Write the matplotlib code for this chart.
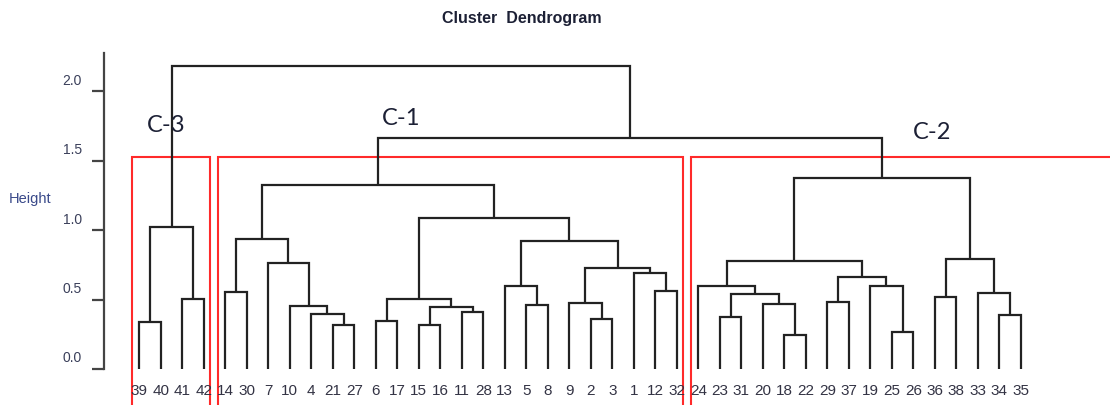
import matplotlib
matplotlib.use("Agg")
import matplotlib.pyplot as plt
import matplotlib.transforms as mtransforms
from matplotlib import font_manager

# ---------------- data ----------------
leaf_order = [39, 40, 41, 42, 14, 30, 7, 10, 4, 21, 27, 6, 17, 15, 16, 11, 28,
              13, 5, 8, 9, 2, 3, 1, 12, 32, 24, 23, 31, 20, 18, 22, 29, 37, 19,
              25, 26, 36, 38, 33, 34, 35]

# R-style merge matrix: negative = leaf label, positive = earlier merge (1-based)
merge_left = [-39, -41, 1, -14, -21, -4, -10, -7, 4, -6, -15, -11, 11, 10,
              -5, -13, -2, -9, -12, -1, 18, 16, 14, 9,
              -23, -18, -20, 25, -24, -29, -25, -19, 30, 29, -36, -34, -33, 35, 34, 24, 3]
merge_right = [-40, -42, 2, -30, -27, 5, 6, 7, 8, -17, -16, -28, 12, 13,
               -8, 15, -3, 17, -32, 19, 20, 21, 22, 23,
               -31, -22, 26, 27, 28, -37, -26, 31, 32, 33, -38, -35, 36, 37, 38, 39, 40]
merge_height = [0.336, 0.504, 1.025, 0.553, 0.317, 0.396, 0.452, 0.764, 0.937,
                0.343, 0.317, 0.408, 0.444, 0.504, 0.463, 0.596, 0.360, 0.475,
                0.560, 0.690, 0.725, 0.920, 1.088, 1.328,
                0.372, 0.245, 0.468, 0.540, 0.596, 0.480, 0.264, 0.596, 0.665,
                0.780, 0.517, 0.391, 0.548, 0.790, 1.373, 1.664, 2.180]

cluster_names = ["C-3", "C-1", "C-2"]
cluster_first_leaf = [39, 14, 24]
cluster_last_leaf = [42, 32, 35]
cut_height = 1.53

y_ticks = [0.0, 0.5, 1.0, 1.5, 2.0]
y_tick_labels = ["0.0", "0.5", "1.0", "1.5", "2.0"]

# ---------------- fonts ----------------
names = {f.name for f in font_manager.fontManager.ttflist}
narrow = "Liberation Sans Narrow" if "Liberation Sans Narrow" in names else "Liberation Sans"
label_font = "Lato" if "Lato" in names else "DejaVu Sans"

# ---------------- figure ----------------
W, H, DPI = 1110, 406, 100
fig = plt.figure(figsize=(W / DPI, H / DPI), dpi=DPI)
ax = fig.add_axes([0, 0, 1, 1])

# pixel mapping (leaf 0 at px 139.3, 21.5 px per leaf; height 0 at py 370, 138.8 px per unit)
x0px, dxpx = 139.3, 21.5
y0px, dypx = 370.0, 138.8
ax.set_xlim(-x0px / dxpx, (W - x0px) / dxpx)
ax.set_ylim((y0px - H) / dypx, y0px / dypx)

line_col = "#222222"
lw = 1.6

pos = {lab: i for i, lab in enumerate(leaf_order)}
node_x = []


def get(ref):
    if ref < 0:
        return float(pos[-ref]), 0.0
    return node_x[ref - 1], merge_height[ref - 1]


for l, r, h in zip(merge_left, merge_right, merge_height):
    xl, hl = get(l)
    xr, hr = get(r)
    ax.plot([xl, xl, xr, xr], [hl, h, h, hr], color=line_col, lw=lw,
            solid_joinstyle="miter", solid_capstyle="butt", zorder=3)
    node_x.append((xl + xr) / 2.0)

# leaf labels
for lab, i in pos.items():
    ax.text(i, -0.15, str(lab), ha="center", va="center", fontsize=11,
            family=narrow, color="#333344")

# red cluster boxes
red = "#ff2a2a"
xmax = ax.get_xlim()[1]
for k, (name, a, b) in enumerate(zip(cluster_names, cluster_first_leaf, cluster_last_leaf)):
    xa = pos[a] - 0.35
    xb = pos[b] + 0.27 if k < len(cluster_names) - 1 else xmax + 1
    ax.plot([xa, xa, xb, xb], [-0.5, cut_height, cut_height, -0.5], color=red,
            lw=1.5, zorder=2, solid_joinstyle="miter")

label_pos_x = [1.24, 12.2, 36.86]
label_pos_y = [1.765, 1.813, 1.71]
for name, lx, ly in zip(cluster_names, label_pos_x, label_pos_y):
    ax.text(lx, ly, name, ha="center", va="center", fontsize=17,
            family=label_font, color="#1c2035", zorder=4)

# axis
for s in ["top", "right", "bottom"]:
    ax.spines[s].set_visible(False)
ax.spines["left"].set_position(("data", (104 - x0px) / dxpx))
ax.spines["left"].set_bounds(0, 2.28)
ax.spines["left"].set_color("#444444")
ax.spines["left"].set_linewidth(1.6)
ax.set_xticks([])
ax.set_yticks(y_ticks)
ax.set_yticklabels(y_tick_labels, family=narrow, fontsize=10, color="#3a3f5a")
ax.tick_params(axis="y", direction="out", length=9, width=1.6, color="#444444", pad=7)
offset = mtransforms.ScaledTranslation(0, 9.5 / 72, fig.dpi_scale_trans)
for t in ax.get_yticklabels():
    t.set_transform(t.get_transform() + offset)

fig.text(30 / W, 1 - 199 / H, "Height", ha="center", va="center",
         fontsize=10.5, family=narrow, color="#3a4a8a")
fig.text(521.7 / W, 1 - 18.3 / H, "Cluster  Dendrogram", ha="center", va="center",
         fontsize=11.5, family="Liberation Sans", weight="bold", color="#1c2035")

fig.savefig("out.png", dpi=DPI)
